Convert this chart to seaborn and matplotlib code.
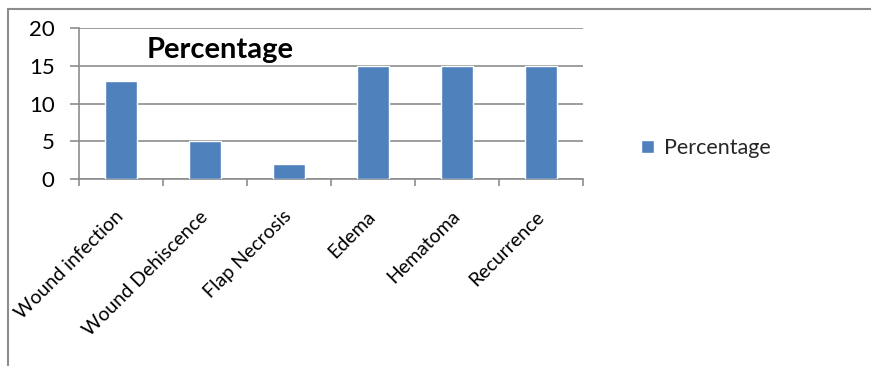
import matplotlib
matplotlib.use("Agg")
import matplotlib.pyplot as plt
import seaborn as sns
import pandas as pd
from matplotlib.lines import Line2D

categories = ["Wound infection", "Wound Dehiscence", "Flap Necrosis", "Edema", "Hematoma", "Recurrence"]
values = [13, 5, 2, 15, 15, 15]
y_ticks = [0, 5, 10, 15, 20]
series_name = "Percentage"

sns.set_theme(style="white")
plt.rcParams['font.family'] = ['Lato', 'DejaVu Sans']

df = pd.DataFrame({"Complication": categories, series_name: values})

W, H = 871, 366
fig = plt.figure(figsize=(W / 100, H / 100), dpi=100)
fig.patch.set_facecolor("white")

# outer frame (top and left edges visible)
fig.add_artist(Line2D([8 / W, 1], [1 - 9 / H, 1 - 9 / H], color="#8c8c8c", lw=1.5, transform=fig.transFigure))
fig.add_artist(Line2D([8 / W, 8 / W], [0, 1 - 9 / H], color="#8c8c8c", lw=1.5, transform=fig.transFigure))

left, right, top, bottom = 79, 583, 28, 179
ax = fig.add_axes([left / W, 1 - bottom / H, (right - left) / W, (bottom - top) / H])

sns.barplot(data=df, x="Complication", y=series_name, color="#4F81BD", width=0.39,
            saturation=1, ax=ax, label=series_name, zorder=3)

ax.set_ylim(0, 20)
ax.set_xlim(-0.5, len(categories) - 0.5)
ax.set_yticks(y_ticks)
ax.yaxis.grid(True, color="#8c8c8c", lw=1.2, zorder=0)
ax.set_axisbelow(True)
ax.set_xlabel("")
ax.set_ylabel("")

for s in ["top", "right"]:
    ax.spines[s].set_visible(False)
for s in ["left", "bottom"]:
    ax.spines[s].set_color("#8c8c8c")
    ax.spines[s].set_linewidth(1.2)

# category boundary ticks on x
ax.set_xticks([i - 0.5 for i in range(len(categories) + 1)], minor=False)
ax.set_xticklabels([])
ax.set_xticks(range(len(categories)), minor=True)
ax.set_xticklabels(categories, minor=True, rotation=45, ha="right", va="center",
                   rotation_mode="anchor", fontsize=14, color="#000000")
ax.tick_params(axis="x", which="major", length=5, width=1.2, color="#8c8c8c", direction="out", bottom=True)
ax.tick_params(axis="x", which="minor", length=0, pad=25)
ax.tick_params(axis="y", length=6.5, width=1.2, color="#8c8c8c", direction="out", left=True,
               labelsize=16, labelcolor="#000000", pad=11)

ax.text(0.28, 0.855, series_name, transform=ax.transAxes, ha="center", va="center",
        fontsize=21, fontweight="bold", color="#000000")

ax.legend(loc="center left", bbox_to_anchor=(641 / W, 1 - 148 / H), bbox_transform=fig.transFigure,
          frameon=False, fontsize=15.5, handlelength=0.6, handleheight=0.6, handletextpad=0.45,
          borderaxespad=0, borderpad=0)

fig.savefig("out.png", dpi=100, facecolor="white")
